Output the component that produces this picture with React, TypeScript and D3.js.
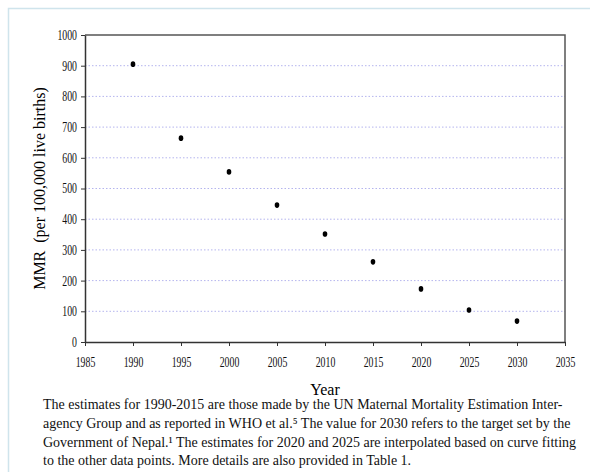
import React, { useEffect, useRef } from 'react';
import * as d3 from 'd3';

// MMR estimates and targets (per 100,000 live births)
const years = [1990, 1995, 2000, 2005, 2010, 2015, 2020, 2025, 2030];
const mmr = [905, 664, 554, 446, 352, 261, 173, 104, 68];
const xTicks = [1985, 1990, 1995, 2000, 2005, 2010, 2015, 2020, 2025, 2030, 2035];
const yTicks = [0, 100, 200, 300, 400, 500, 600, 700, 800, 900, 1000];
const caption = [
  'The estimates for 1990-2015 are those made by the UN Maternal Mortality Estimation Inter-',
  'agency Group and as reported in WHO et al.⁵ The value for 2030 refers to the target set by the',
  'Government of Nepal.¹ The estimates for 2020 and 2025 are interpolated based on curve fitting',
  'to the other data points. More details are also provided in Table 1.',
];

function App() {
  const ref = useRef<SVGSVGElement>(null);

  useEffect(() => {
    const width = 590;
    const height = 472;
    const m = { top: 35, right: 25, bottom: 130, left: 85 };
    const serif = '"Liberation Serif", "Times New Roman", serif';

    const svg = d3.select(ref.current);
    svg.selectAll('*').remove();
    svg.attr('width', width).attr('height', height);

    // light blue page frame
    svg.append('path')
      .attr('d', `M8.5,${height} V8.5 H${width}`)
      .attr('fill', 'none')
      .attr('stroke', '#cfe4ec')
      .attr('stroke-width', 1.5);

    const x = d3.scaleLinear().domain([1985, 2035]).range([m.left, width - m.right]);
    const y = d3.scaleLinear().domain([0, 1000]).range([height - m.bottom, m.top]);

    // gridlines
    svg.append('g')
      .selectAll('line')
      .data(yTicks.filter((t) => t > 0 && t < 1000))
      .enter()
      .append('line')
      .attr('x1', x(1985))
      .attr('x2', x(2035))
      .attr('y1', (d) => y(d))
      .attr('y2', (d) => y(d))
      .attr('stroke', '#b4b4ee')
      .attr('stroke-dasharray', '1.5,2');

    // frame top/right
    svg.append('path')
      .attr('d', `M${x(1985)},${y(1000)} H${x(2035)} V${y(0)}`)
      .attr('fill', 'none')
      .attr('stroke', '#555')
      .attr('stroke-width', 1.5);

    // condensed serif tick labels
    const tickFont = (g: d3.Selection<SVGGElement, unknown, null, undefined>) => {
      g.attr('font-family', serif);
      g.selectAll<SVGTextElement, number>('text')
        .attr('font-family', serif)
        .attr('font-size', 14)
        .attr('fill', '#111')
        .attr('textLength', function () { return (this.textContent || '').length * 4.9; })
        .attr('lengthAdjust', 'spacingAndGlyphs');
      g.selectAll('line').attr('stroke', '#333');
      g.select('.domain').attr('stroke', '#333').attr('stroke-width', 1.5);
    };

    svg.append('g')
      .attr('transform', `translate(0,${y(0)})`)
      .call(d3.axisBottom(x).tickValues(xTicks).tickFormat(d3.format('d')).tickSize(4).tickSizeOuter(0).tickPadding(11))
      .call(tickFont);

    svg.append('g')
      .attr('transform', `translate(${x(1985)},0)`)
      .call(d3.axisLeft(y).tickValues(yTicks).tickFormat(d3.format('d')).tickSize(4).tickSizeOuter(0).tickPadding(4))
      .call(tickFont);

    // points
    svg.append('g')
      .selectAll('ellipse')
      .data(years)
      .enter()
      .append('ellipse')
      .attr('cx', (d) => x(d))
      .attr('cy', (d, i) => y(mmr[i]))
      .attr('rx', 2.3)
      .attr('ry', 2.8)
      .attr('fill', '#000');

    // axis titles
    svg.append('text')
      .attr('x', (x(1985) + x(2035)) / 2)
      .attr('y', 395)
      .attr('text-anchor', 'middle')
      .attr('font-family', serif)
      .attr('font-size', 16)
      .text('Year');

    svg.append('text')
      .attr('transform', `translate(45,${(y(0) + y(1000)) / 2}) rotate(-90)`)
      .attr('text-anchor', 'middle')
      .attr('font-family', serif)
      .attr('font-size', 16)
      .attr('xml:space', 'preserve')
      .text('MMR  (per 100,000 live births)');

    // caption
    svg.append('g')
      .selectAll('text')
      .data(caption)
      .enter()
      .append('text')
      .attr('x', 43)
      .attr('y', (d, i) => 409 + i * 18.8)
      .attr('font-family', serif)
      .attr('font-size', 14)
      .attr('fill', '#111')
      .text((d) => d);
  }, []);

  return <svg ref={ref} style={{ position: 'absolute', left: 0, top: 0 }} />;
}

export default App;
